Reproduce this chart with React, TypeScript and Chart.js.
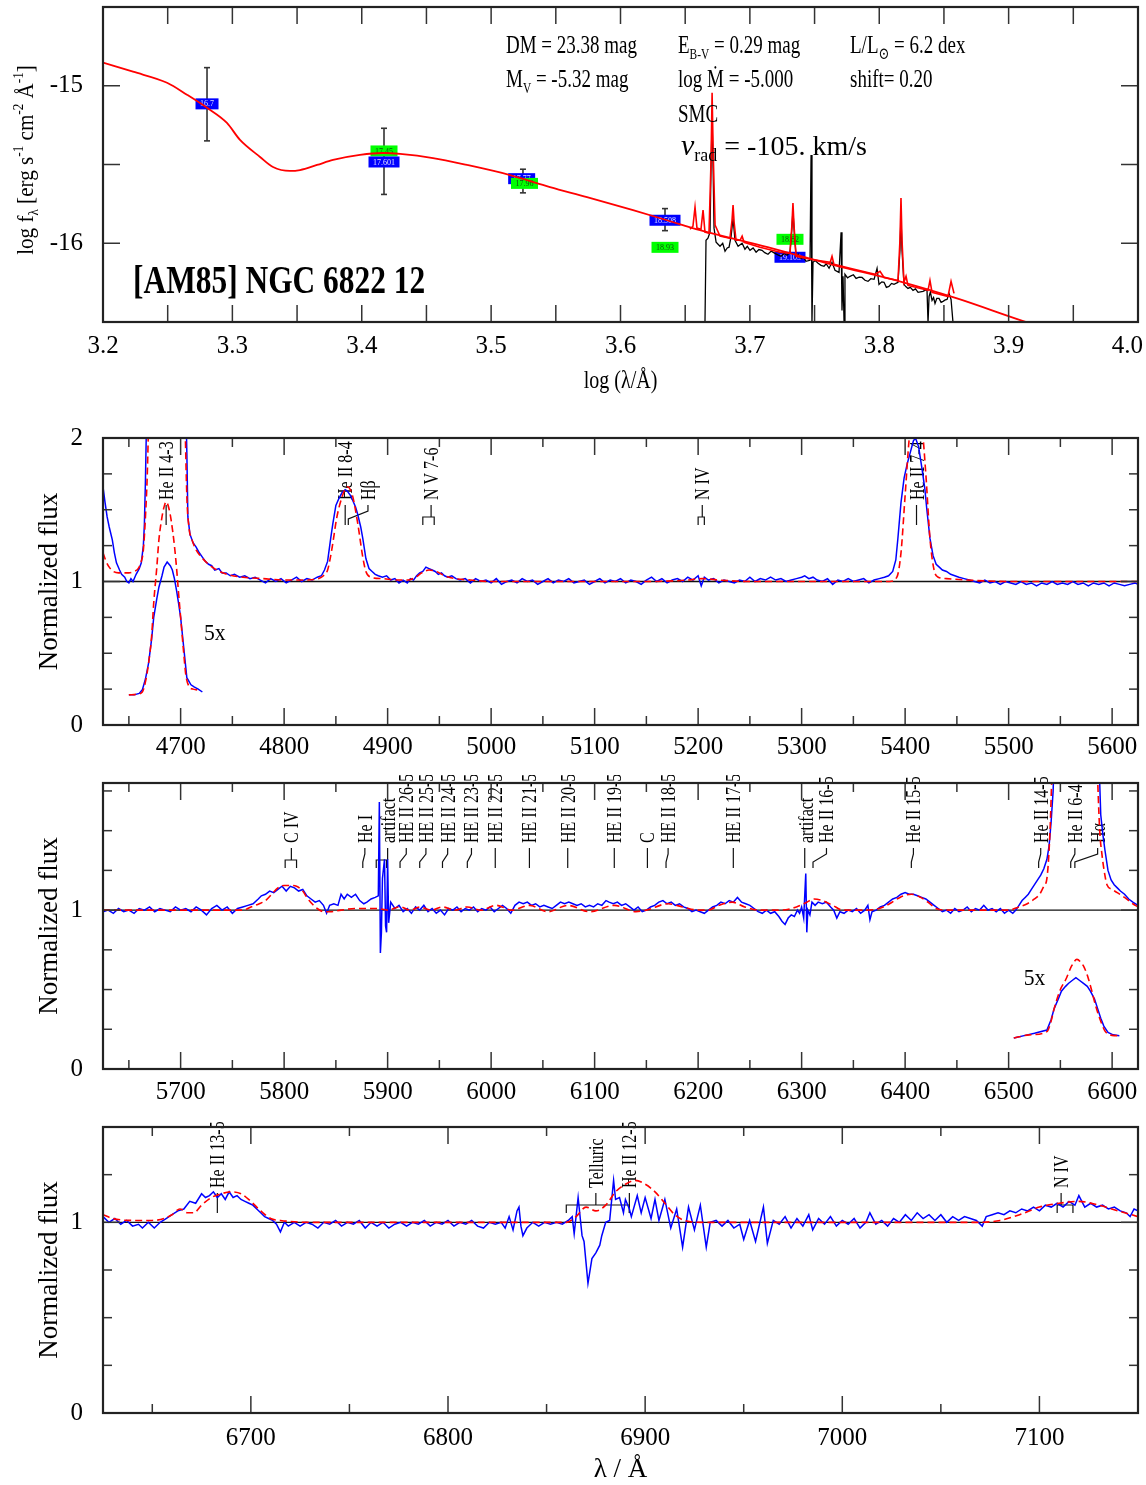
import React, { useEffect, useRef } from "react";
import { Chart, registerables } from "chart.js";

Chart.register(...registerables);

const SERIF = "'Liberation Serif','Times New Roman','DejaVu Serif','DejaVu Sans',serif";
const RED = "#ff0000";
const BLUE = "#0000ff";
Chart.defaults.font.family = SERIF;
Chart.defaults.color = "#000";

// ================= TOP PANEL (SED) =================
const sedXTicks = [3.2, 3.3, 3.4, 3.5, 3.6, 3.7, 3.8, 3.9, 4.0];
const sedXMinor = [3.25, 3.35, 3.45, 3.55, 3.65, 3.75, 3.85, 3.95];
const sedYTicks = [-16, -15];
const sedYMinor = [-15.5];

const sedCont = [
  [3.2, -14.853], [3.2232, -14.911], [3.2495, -14.981], [3.2649, -15.057], [3.2804, -15.14],
  [3.2958, -15.236], [3.3059, -15.344], [3.3214, -15.452], [3.3314, -15.516], [3.3445, -15.541],
  [3.3523, -15.535], [3.3654, -15.503], [3.3778, -15.471], [3.3986, -15.439], [3.4164, -15.427],
  [3.4296, -15.433], [3.4551, -15.459], [3.4814, -15.503], [3.5146, -15.567], [3.5455, -15.643],
  [3.5741, -15.707], [3.6097, -15.79], [3.6359, -15.854], [3.6614, -15.917], [3.7137, -16.025],
  [3.7658, -16.14], [3.8184, -16.248], [3.8601, -16.35], [3.9173, -16.51], [3.93, -16.54],
];

const sedModelLines = [
  [3.6537, -15.911], [3.656, -15.892], [3.6576, -15.771], [3.6591, -15.904], [3.6622, -15.911],
  [3.6638, -15.79], [3.6653, -15.93], [3.6684, -15.936], [3.67, -15.471], [3.6708, -15.045],
  [3.6716, -15.408], [3.6731, -15.885], [3.6769, -15.955], [3.6846, -15.968], [3.6862, -15.854],
  [3.687, -15.758], [3.6878, -15.866], [3.6893, -15.981], [3.6924, -15.981], [3.694, -15.955],
  [3.6955, -15.994], [3.7078, -16.025], [3.7233, -16.057], [3.731, -16.064], [3.7325, -15.885],
  [3.7333, -15.745], [3.7341, -15.885], [3.7357, -16.083], [3.7467, -16.102], [3.7621, -16.121],
  [3.7635, -16.083], [3.765, -16.134], [3.7774, -16.159], [3.7967, -16.197], [3.8006, -16.178],
  [3.8037, -16.217], [3.8145, -16.236], [3.816, -15.981], [3.8168, -15.713], [3.8176, -15.981],
  [3.8191, -16.248], [3.8207, -16.21], [3.8222, -16.268], [3.8377, -16.299], [3.8392, -16.236],
  [3.8408, -16.312], [3.8531, -16.338], [3.8555, -16.242], [3.8578, -16.318],
];

const sedObs = [
  [3.6653, -16.503], [3.6661, -15.981], [3.6676, -15.968], [3.6692, -15.93], [3.67, -15.503],
  [3.6708, -15.217], [3.6716, -15.535], [3.6723, -15.904], [3.6739, -15.994], [3.6769, -16.019],
  [3.679, -16.0], [3.6808, -16.051], [3.6825, -16.03], [3.6839, -16.025], [3.6855, -15.955],
  [3.687, -15.841], [3.6885, -15.981], [3.6909, -16.019], [3.694, -16.0], [3.6962, -16.038],
  [3.698, -16.02], [3.7001, -16.045], [3.7025, -16.03], [3.7048, -16.057], [3.707, -16.04],
  [3.7094, -16.045], [3.7115, -16.06], [3.714, -16.07], [3.7165, -16.05], [3.7194, -16.064],
  [3.722, -16.075], [3.7241, -16.083], [3.7265, -16.065], [3.7287, -16.076], [3.731, -16.057],
  [3.7325, -15.904], [3.7333, -15.79], [3.7341, -15.904], [3.7357, -16.083], [3.7375, -16.07],
  [3.7395, -16.096], [3.7415, -16.09], [3.7434, -16.115], [3.7465, -16.108], [3.7473, -15.439],
  [3.748, -16.503], [3.7488, -16.121], [3.7505, -16.11], [3.7527, -16.127], [3.755, -16.14],
  [3.7573, -16.146], [3.759, -16.13], [3.7612, -16.159], [3.7635, -16.121], [3.7658, -16.172],
  [3.7689, -16.185], [3.7705, -15.93], [3.7712, -16.427], [3.772, -16.21], [3.7728, -16.503],
  [3.7735, -16.197], [3.7755, -16.22], [3.7774, -16.21], [3.78, -16.2], [3.7821, -16.223],
  [3.7845, -16.215], [3.7867, -16.217], [3.789, -16.235], [3.7913, -16.242], [3.7935, -16.225],
  [3.796, -16.229], [3.7983, -16.159], [3.7998, -16.261], [3.802, -16.245], [3.8037, -16.248],
  [3.8055, -16.28], [3.8075, -16.274], [3.8095, -16.255], [3.8114, -16.261], [3.8145, -16.248],
  [3.816, -16.045], [3.8168, -15.822], [3.8176, -16.045], [3.8191, -16.261], [3.8205, -16.275],
  [3.8222, -16.287], [3.824, -16.28], [3.8261, -16.299], [3.828, -16.29], [3.83, -16.312],
  [3.8338, -16.306], [3.8369, -16.293], [3.8377, -16.503], [3.8385, -16.338], [3.8395, -16.31],
  [3.8408, -16.363], [3.842, -16.345], [3.8431, -16.382], [3.8445, -16.35], [3.8462, -16.35],
  [3.8478, -16.375], [3.8493, -16.369], [3.851, -16.36], [3.8524, -16.357], [3.8539, -16.318],
  [3.8555, -16.357], [3.857, -16.503],
];

const photLogLam = [3.2804, 3.4172, 3.4172, 3.5236, 3.5258, 3.6344, 3.6344, 3.731, 3.731];
const photLogF = [-15.115, -15.414, -15.484, -15.59, -15.62, -15.854, -16.026, -15.975, -16.089];
const photMag = ["16.7", "17.45", "17.601", "17.77", "17.96", "18.508", "18.93", "18.82", "19.103"];
const photKind = ["b", "g", "b", "b", "g", "b", "g", "g", "b"];
const errLogLam = [3.2804, 3.4172, 3.5246, 3.6344];
const errLo = [-15.35, -15.69, -15.68, -15.92];
const errHi = [-14.885, -15.27, -15.53, -15.78];

// ================= PANEL 2 (4625-5625) =================
const p2XTicks = [4700, 4800, 4900, 5000, 5100, 5200, 5300, 5400, 5500, 5600];
const p2XMinor = [4650, 4750, 4850, 4950, 5050, 5150, 5250, 5350, 5450, 5550];
const p2YTicks = [0, 1, 2];
const p2YMinor = [0.25, 0.5, 0.75, 1.25, 1.5, 1.75];

const p2Obs = [
  [4625, 1.66], [4627, 1.55], [4629, 1.45], [4631, 1.38], [4634, 1.29], [4636, 1.2], [4638, 1.13],
  [4641, 1.08], [4643, 1.05], [4646, 1.03], [4648, 1.0], [4650, 0.99], [4652, 1.02], [4654, 1.0],
  [4657, 1.05], [4660, 1.09], [4662, 1.13], [4664, 1.25], [4665, 1.4], [4666, 1.7], [4667, 2.1],
  [4668, 2.6], [4672, 3.8], [4678, 5.0], [4686, 5.65], [4694, 5.2], [4700, 4.0], [4704, 2.6],
  [4706, 1.9], [4707, 1.45], [4709, 1.33], [4712, 1.27], [4715, 1.24], [4718, 1.2], [4721, 1.17],
  [4724, 1.14], [4727, 1.12], [4730, 1.11], [4733, 1.08], [4737, 1.09], [4740, 1.06], [4744, 1.06],
  [4748, 1.04], [4752, 1.05], [4757, 1.03], [4762, 1.04], [4767, 1.02], [4772, 1.03], [4777, 1.01],
  [4782, 0.99], [4787, 1.02], [4792, 1.0], [4797, 1.02], [4802, 0.99], [4807, 1.01], [4812, 1.03],
  [4817, 1.0], [4822, 1.02], [4827, 1.01], [4832, 1.03], [4836, 1.04], [4839, 1.08], [4842, 1.14],
  [4845, 1.3], [4847, 1.4], [4850, 1.53], [4853, 1.58], [4856, 1.62], [4859, 1.64], [4861, 1.63],
  [4864, 1.6], [4866, 1.57], [4869, 1.52], [4871, 1.47], [4874, 1.38], [4876, 1.3], [4879, 1.16],
  [4882, 1.09], [4885, 1.07], [4888, 1.05], [4891, 1.04], [4895, 1.03], [4899, 1.04], [4903, 1.01],
  [4907, 1.02], [4911, 0.99], [4915, 1.01], [4919, 0.99], [4922, 1.02], [4925, 1.01], [4928, 1.04],
  [4931, 1.06], [4934, 1.07], [4937, 1.1], [4940, 1.09], [4943, 1.08], [4946, 1.07], [4949, 1.05],
  [4952, 1.06], [4955, 1.04], [4958, 1.03], [4962, 1.04], [4966, 1.02], [4970, 1.01], [4975, 1.02],
  [4980, 0.99], [4985, 1.02], [4990, 1.0], [4995, 1.01], [5000, 0.99], [5005, 1.02], [5010, 0.98],
  [5015, 1.0], [5020, 1.01], [5025, 0.99], [5030, 1.02], [5035, 1.0], [5040, 1.01], [5045, 0.98],
  [5050, 1.0], [5055, 1.02], [5060, 0.99], [5065, 1.01], [5070, 1.0], [5075, 1.02], [5080, 0.99],
  [5085, 1.0], [5090, 1.01], [5095, 0.98], [5100, 1.0], [5105, 1.02], [5110, 0.99], [5115, 1.01],
  [5120, 1.0], [5125, 1.02], [5130, 0.99], [5135, 1.01], [5140, 1.0], [5145, 0.98], [5150, 1.01],
  [5155, 1.03], [5160, 1.0], [5165, 1.02], [5170, 0.99], [5175, 1.01], [5180, 1.02], [5185, 1.0],
  [5190, 1.03], [5195, 1.01], [5200, 1.04], [5203, 0.97], [5206, 1.03], [5210, 1.01], [5215, 1.02],
  [5220, 0.99], [5225, 1.01], [5230, 1.0], [5235, 0.99], [5240, 1.01], [5245, 1.0], [5250, 1.03],
  [5255, 1.0], [5260, 1.02], [5265, 1.01], [5270, 1.03], [5275, 1.01], [5280, 1.02], [5285, 1.0],
  [5290, 1.01], [5295, 1.02], [5300, 1.03], [5303, 1.04], [5307, 1.02], [5311, 1.03], [5315, 1.01],
  [5320, 1.0], [5325, 1.02], [5330, 0.98], [5335, 1.01], [5340, 1.0], [5345, 1.02], [5350, 1.0],
  [5355, 1.01], [5360, 1.02], [5365, 0.99], [5370, 1.01], [5375, 1.02], [5380, 1.03], [5384, 1.04],
  [5388, 1.07], [5391, 1.15], [5393, 1.3], [5396, 1.55], [5399, 1.72], [5402, 1.82], [5405, 1.9],
  [5408, 1.98], [5410, 2.0], [5413, 1.94], [5416, 1.8], [5419, 1.65], [5421, 1.5], [5424, 1.3],
  [5427, 1.18], [5430, 1.12], [5433, 1.1], [5436, 1.08], [5440, 1.07], [5444, 1.05], [5448, 1.04],
  [5452, 1.03], [5457, 1.02], [5462, 1.01], [5467, 1.0], [5472, 0.99], [5477, 1.01], [5482, 0.99],
  [5487, 1.0], [5492, 0.98], [5497, 1.0], [5502, 0.99], [5507, 0.98], [5512, 1.0], [5517, 0.98],
  [5522, 0.99], [5527, 0.97], [5532, 0.99], [5537, 0.98], [5542, 1.0], [5547, 0.98], [5552, 0.99],
  [5557, 0.98], [5562, 1.0], [5567, 0.98], [5572, 0.99], [5577, 0.97], [5582, 0.99], [5587, 0.98],
  [5592, 0.99], [5597, 0.97], [5602, 0.99], [5607, 0.98], [5612, 0.97], [5617, 0.98], [5622, 0.99],
  [5625, 0.98],
];

const p2Model = [
  [4625, 1.2], [4628, 1.14], [4631, 1.1], [4635, 1.07], [4640, 1.06], [4645, 1.06], [4650, 1.06],
  [4655, 1.07], [4659, 1.09], [4662, 1.14], [4664, 1.22], [4666, 1.45], [4668, 1.8], [4670, 2.5],
  [4676, 5.5], [4686, 7.8], [4696, 5.5], [4703, 2.6], [4706, 1.6], [4708, 1.38], [4711, 1.29],
  [4715, 1.22], [4720, 1.17], [4727, 1.12], [4735, 1.08], [4745, 1.05], [4760, 1.03], [4780, 1.02],
  [4800, 1.01], [4820, 1.01], [4833, 1.02], [4838, 1.04], [4842, 1.08], [4846, 1.22], [4851, 1.45],
  [4856, 1.59], [4861, 1.66], [4866, 1.6], [4871, 1.41], [4876, 1.17], [4879, 1.07], [4884, 1.03],
  [4895, 1.02], [4910, 1.01], [4920, 1.01], [4927, 1.03], [4933, 1.06], [4940, 1.08], [4947, 1.07],
  [4955, 1.04], [4965, 1.02], [4980, 1.01], [5000, 1.0], [5050, 1.0], [5100, 1.0], [5150, 1.0],
  [5190, 1.01], [5204, 1.02], [5220, 1.01], [5250, 1.0], [5300, 1.0], [5350, 1.0], [5385, 1.0],
  [5392, 1.03], [5396, 1.2], [5400, 1.6], [5404, 2.0], [5408, 2.2], [5412, 2.2], [5416, 2.1],
  [5420, 1.75], [5424, 1.3], [5428, 1.08], [5432, 1.03], [5440, 1.02], [5460, 1.01], [5500, 1.0],
  [5550, 1.0], [5600, 1.0], [5625, 1.0],
];

const p2InsetObs = [
  [4650, 0.21], [4655, 0.21], [4660, 0.22], [4663, 0.245], [4666, 0.32], [4669, 0.43], [4672, 0.6],
  [4674, 0.75], [4677, 0.88], [4679, 0.96], [4682, 1.04], [4684, 1.1], [4687, 1.135], [4690, 1.11],
  [4692, 1.08], [4694, 1.02], [4696, 0.94], [4698, 0.85], [4700, 0.75], [4703, 0.54], [4706, 0.33],
  [4710, 0.28], [4713, 0.265], [4717, 0.25], [4721, 0.23],
];
const p2InsetModel = [
  [4650, 0.21], [4658, 0.215], [4663, 0.23], [4666, 0.3], [4669, 0.43], [4672, 0.62], [4674, 0.85],
  [4677, 1.1], [4679, 1.29], [4682, 1.45], [4684, 1.52], [4686, 1.556], [4689, 1.5], [4691, 1.42],
  [4694, 1.25], [4696, 1.1], [4698, 0.92], [4700, 0.75], [4703, 0.5], [4705, 0.35], [4708, 0.27],
  [4712, 0.25], [4716, 0.245],
];

const p2Names = ["He II 4-3", "He II 8-4", "H\u03b2", "N V 7-6", "N IV", "He II 7-4"];
const p2TextAt = [4686, 4859, 4881, 4942, 5204, 5411];
const p2LineAt = [4686, 4859, 4862, 4934, 5200, 5411];
const p2LineAt2 = [null, null, null, 4945, 5206, null];

// ================= PANEL 3 (5625-6625) =================
const p3XTicks = [5700, 5800, 5900, 6000, 6100, 6200, 6300, 6400, 6500, 6600];
const p3XMinor = [5650, 5750, 5850, 5950, 6050, 6150, 6250, 6350, 6450, 6550];
const p3YTicks = [0, 1];
const p3YMinor = [0.25, 0.5, 0.75, 1.25, 1.5, 1.75];

const p3Obs = [
  [5625, 0.99], [5630, 1.0], [5635, 0.98], [5640, 1.01], [5645, 0.99], [5650, 1.0], [5655, 0.98],
  [5660, 1.01], [5665, 1.0], [5670, 1.02], [5675, 0.99], [5680, 1.01], [5685, 1.0], [5690, 0.99],
  [5695, 1.02], [5700, 1.0], [5705, 1.01], [5710, 0.99], [5715, 1.02], [5720, 1.0], [5725, 0.97],
  [5730, 1.01], [5735, 1.03], [5740, 1.0], [5745, 1.02], [5750, 0.98], [5755, 1.01], [5760, 1.02],
  [5765, 1.03], [5770, 1.04], [5775, 1.07], [5778, 1.09], [5782, 1.1], [5786, 1.12], [5790, 1.11],
  [5794, 1.13], [5798, 1.15], [5802, 1.12], [5806, 1.15], [5810, 1.14], [5814, 1.12], [5818, 1.13],
  [5822, 1.09], [5826, 1.07], [5830, 1.05], [5834, 1.06], [5838, 1.03], [5841, 0.98], [5844, 1.03],
  [5848, 1.04], [5852, 1.03], [5855, 1.1], [5858, 1.07], [5861, 1.1], [5865, 1.08], [5869, 1.1],
  [5873, 1.06], [5877, 1.04], [5880, 1.05], [5884, 1.07], [5888, 1.08], [5891, 1.09], [5892, 1.68],
  [5893, 0.73], [5894, 0.86], [5895, 1.2], [5897, 1.32], [5898, 0.9], [5899, 0.86], [5900, 1.32],
  [5901, 0.92], [5903, 1.05], [5907, 1.01], [5911, 1.03], [5915, 0.99], [5919, 1.01], [5923, 0.98],
  [5927, 1.02], [5931, 1.0], [5935, 1.03], [5939, 0.99], [5943, 1.01], [5947, 0.98], [5951, 1.0],
  [5955, 0.97], [5959, 1.01], [5963, 1.0], [5967, 1.02], [5971, 0.99], [5975, 1.01], [5979, 1.0],
  [5983, 1.02], [5987, 0.99], [5991, 1.01], [5995, 1.0], [5999, 1.02], [6003, 0.99], [6007, 1.01],
  [6011, 1.03], [6015, 1.01], [6019, 0.98], [6023, 1.03], [6027, 1.05], [6031, 1.04], [6035, 1.05],
  [6039, 1.03], [6043, 1.04], [6047, 1.02], [6051, 1.03], [6055, 1.02], [6059, 1.01], [6063, 1.03],
  [6067, 1.05], [6071, 1.04], [6075, 1.05], [6079, 1.04], [6083, 1.03], [6087, 1.04], [6091, 1.02],
  [6095, 1.03], [6099, 1.02], [6103, 1.04], [6107, 1.03], [6111, 1.06], [6114, 1.05], [6118, 1.04],
  [6122, 1.05], [6126, 1.03], [6130, 1.04], [6134, 1.02], [6138, 1.0], [6142, 1.02], [6146, 0.99],
  [6150, 1.0], [6154, 1.02], [6158, 1.03], [6162, 1.05], [6166, 1.06], [6170, 1.04], [6174, 1.05],
  [6178, 1.03], [6182, 1.04], [6186, 1.02], [6190, 1.01], [6194, 0.99], [6198, 1.0], [6202, 0.99],
  [6206, 0.98], [6210, 1.0], [6214, 1.02], [6218, 1.03], [6222, 1.05], [6226, 1.04], [6230, 1.06],
  [6234, 1.05], [6238, 1.08], [6242, 1.05], [6246, 1.04], [6250, 1.03], [6254, 1.01], [6258, 0.99],
  [6262, 0.98], [6266, 1.0], [6270, 0.98], [6274, 0.99], [6278, 0.96], [6281, 0.93], [6284, 0.91],
  [6287, 0.95], [6290, 0.97], [6293, 0.96], [6296, 1.0], [6298, 0.98], [6300, 1.02], [6302, 0.95],
  [6304, 1.23], [6305, 0.86], [6306, 1.0], [6308, 0.97], [6310, 1.05], [6313, 1.03], [6316, 1.05],
  [6320, 1.04], [6324, 1.05], [6328, 1.02], [6331, 1.0], [6334, 0.95], [6337, 0.99], [6341, 0.98],
  [6345, 1.0], [6349, 0.99], [6353, 1.01], [6357, 0.98], [6361, 1.0], [6364, 1.03], [6366, 0.94],
  [6368, 0.99], [6372, 1.0], [6376, 1.02], [6380, 1.03], [6384, 1.05], [6388, 1.07], [6392, 1.08],
  [6396, 1.1], [6400, 1.11], [6404, 1.1], [6408, 1.1], [6412, 1.09], [6416, 1.08], [6420, 1.07],
  [6424, 1.05], [6428, 1.03], [6432, 1.01], [6436, 0.99], [6440, 1.0], [6444, 0.98], [6448, 1.01],
  [6452, 0.99], [6456, 1.0], [6460, 1.02], [6464, 0.99], [6468, 1.01], [6472, 1.0], [6476, 1.03],
  [6480, 1.0], [6484, 1.01], [6488, 0.99], [6492, 1.01], [6496, 0.98], [6500, 1.0], [6504, 0.98],
  [6507, 1.0], [6510, 1.03], [6513, 1.06], [6516, 1.08], [6519, 1.1], [6522, 1.13], [6525, 1.16],
  [6528, 1.19], [6531, 1.22], [6534, 1.26], [6537, 1.32], [6539, 1.4], [6541, 1.55], [6543, 1.75],
  [6545, 2.2], [6550, 2.8], [6565, 3.0], [6582, 2.5], [6587, 2.0], [6589, 1.6], [6591, 1.48],
  [6593, 1.38], [6596, 1.25], [6599, 1.19], [6602, 1.16], [6605, 1.14], [6608, 1.12], [6612, 1.1],
  [6616, 1.07], [6620, 1.05], [6625, 1.03],
];

const p3Model = [
  [5625, 1.0], [5700, 1.0], [5760, 1.0], [5768, 1.02], [5776, 1.04], [5782, 1.06], [5788, 1.1],
  [5794, 1.14], [5800, 1.155], [5806, 1.155], [5812, 1.15], [5818, 1.12], [5822, 1.08], [5827, 1.04],
  [5832, 1.01], [5838, 0.99], [5845, 0.99], [5855, 1.0], [5870, 1.01], [5890, 1.01], [5900, 1.0],
  [5912, 1.02], [5922, 1.0], [5931, 1.02], [5942, 1.0], [5953, 1.02], [5965, 1.0], [5977, 1.02],
  [5990, 1.0], [6005, 1.03], [6020, 1.0], [6037, 1.03], [6055, 0.99], [6074, 1.03], [6095, 0.99],
  [6119, 1.03], [6140, 0.99], [6150, 1.0], [6171, 1.04], [6185, 1.02], [6200, 1.0], [6210, 1.0],
  [6220, 1.03], [6233, 1.05], [6245, 1.02], [6260, 1.0], [6280, 1.0], [6295, 1.02], [6305, 1.05],
  [6312, 1.07], [6320, 1.06], [6330, 1.03], [6340, 1.0], [6360, 1.0], [6375, 1.01], [6385, 1.04],
  [6395, 1.08], [6406, 1.1], [6415, 1.08], [6422, 1.05], [6430, 1.01], [6440, 1.0], [6470, 1.0],
  [6500, 1.0], [6510, 1.02], [6518, 1.04], [6525, 1.07], [6530, 1.1], [6534, 1.15], [6537, 1.2],
  [6540, 1.5], [6542, 1.9], [6550, 3.5], [6563, 4.2], [6575, 3.5], [6585, 2.0], [6588, 1.5],
  [6590, 1.36], [6593, 1.22], [6595, 1.16], [6600, 1.13], [6605, 1.11], [6612, 1.08], [6620, 1.04],
  [6625, 1.02],
];

const p3InsetObs = [
  [6505, 0.195], [6515, 0.21], [6525, 0.225], [6537, 0.245], [6541, 0.31], [6544, 0.38], [6548, 0.44],
  [6551, 0.49], [6555, 0.52], [6558, 0.54], [6562, 0.56], [6565, 0.575], [6568, 0.56], [6572, 0.54],
  [6576, 0.52], [6579, 0.49], [6583, 0.44], [6586, 0.38], [6589, 0.32], [6592, 0.27], [6596, 0.23],
  [6601, 0.215], [6607, 0.21],
];
const p3InsetModel = [
  [6505, 0.195], [6520, 0.215], [6537, 0.235], [6541, 0.3], [6544, 0.38], [6550, 0.5], [6555, 0.56],
  [6561, 0.65], [6566, 0.69], [6570, 0.67], [6573, 0.64], [6577, 0.57], [6580, 0.5], [6584, 0.4],
  [6589, 0.3], [6593, 0.24], [6596, 0.22], [6602, 0.21], [6607, 0.21],
];

const p3Names = [
  "C IV", "He I", "artifact", "HE II 26-5", "HE II 25-5", "HE II 24-5", "HE II 23-5", "HE II 22-5",
  "HE II 21-5", "HE II 20-5", "HE II 19-5", "C", "HE II 18-5", "HE II 17-5", "artifact",
  "He II 16-5", "He II 15-5", "He II 14-5", "He II 6-4", "H\u03b1",
];
const p3TextAt = [5807, 5878, 5900, 5918, 5937, 5958, 5981, 6004, 6037, 6074, 6119, 6151, 6171, 6234, 6304, 6324, 6408, 6531, 6564, 6586];
const p3LineAt = [5801, 5876, 5889, 5912, 5931, 5953, 5977, 6004, 6037, 6074, 6119, 6151, 6169, 6234, 6303, 6311, 6406, 6529, 6560, 6564];
const p3LineAt2 = [5812, null, 5899, null, null, null, null, null, null, null, null, null, null, null, null, null, null, null, null, null];

// ================= PANEL 4 (6625-7150) =================
const p4XTicks = [6700, 6800, 6900, 7000, 7100];
const p4XMinor = [6650, 6750, 6850, 6950, 7050];
const p4YTicks = [0, 1];
const p4YMinor = [0.25, 0.5, 0.75, 1.25];

const p4Obs = [
  [6625, 1.03], [6628, 1.0], [6631, 1.02], [6634, 0.99], [6637, 1.01], [6640, 0.98], [6643, 0.99],
  [6645, 0.97], [6648, 1.0], [6651, 0.97], [6654, 1.0], [6657, 1.02], [6660, 1.04], [6663, 1.06],
  [6666, 1.07], [6669, 1.11], [6672, 1.1], [6675, 1.15], [6677, 1.13], [6679, 1.14], [6681, 1.16],
  [6683, 1.13], [6685, 1.15], [6687, 1.12], [6689, 1.16], [6691, 1.13], [6693, 1.14], [6695, 1.12],
  [6697, 1.11], [6699, 1.1], [6701, 1.09], [6703, 1.07], [6705, 1.05], [6707, 1.03], [6709, 1.02],
  [6711, 1.01], [6713, 0.99], [6715, 0.95], [6717, 1.0], [6719, 0.98], [6722, 1.0], [6725, 0.98],
  [6728, 1.0], [6731, 0.99], [6734, 0.97], [6737, 1.0], [6740, 0.99], [6743, 1.01], [6746, 0.98],
  [6749, 1.0], [6752, 0.99], [6755, 1.01], [6758, 0.97], [6761, 1.0], [6764, 0.98], [6767, 1.0],
  [6770, 0.97], [6773, 0.99], [6776, 1.0], [6779, 0.98], [6782, 1.0], [6785, 0.99], [6788, 1.01],
  [6791, 0.98], [6794, 1.0], [6797, 0.99], [6800, 1.01], [6803, 0.98], [6806, 1.0], [6809, 0.99],
  [6812, 1.01], [6815, 0.98], [6818, 0.97], [6821, 1.0], [6824, 0.99], [6827, 1.0], [6829, 0.97],
  [6831, 1.03], [6833, 0.96], [6835, 1.06], [6836, 1.08], [6837, 0.98], [6838, 0.93], [6840, 0.97],
  [6843, 1.0], [6846, 0.98], [6849, 1.0], [6852, 0.99], [6855, 1.0], [6858, 0.99], [6861, 1.01],
  [6863, 1.03], [6864, 0.94], [6866, 1.13], [6868, 0.93], [6869, 0.9], [6871, 0.68], [6873, 0.81],
  [6875, 0.84], [6877, 0.88], [6878, 0.93], [6880, 1.0], [6882, 1.01], [6884, 1.22], [6885, 1.12],
  [6887, 1.13], [6889, 1.05], [6890, 1.12], [6892, 1.07], [6893, 1.03], [6896, 1.14], [6898, 1.05],
  [6900, 1.13], [6903, 1.02], [6905, 1.12], [6907, 1.01], [6910, 1.12], [6913, 0.97], [6916, 1.07],
  [6919, 0.87], [6922, 1.08], [6925, 0.96], [6928, 1.09], [6931, 0.87], [6933, 1.0], [6936, 1.01],
  [6939, 0.98], [6942, 1.01], [6945, 0.97], [6948, 0.99], [6950, 0.91], [6953, 1.01], [6956, 0.9],
  [6960, 1.08], [6962, 0.89], [6965, 1.01], [6968, 0.99], [6971, 1.03], [6974, 0.97], [6977, 1.02],
  [6980, 0.98], [6983, 1.04], [6985, 0.96], [6988, 1.02], [6991, 0.99], [6994, 1.03], [6997, 0.98],
  [7000, 1.01], [7003, 0.99], [7006, 1.02], [7009, 0.97], [7012, 1.0], [7014, 1.05], [7017, 0.99],
  [7020, 1.01], [7023, 0.98], [7026, 1.02], [7029, 1.0], [7032, 1.04], [7035, 1.01], [7038, 1.05],
  [7041, 1.02], [7044, 1.04], [7047, 1.01], [7050, 1.04], [7053, 1.0], [7056, 1.03], [7059, 1.01],
  [7062, 1.03], [7065, 1.02], [7068, 1.01], [7071, 0.98], [7073, 1.03], [7076, 1.04], [7079, 1.05],
  [7082, 1.04], [7085, 1.06], [7088, 1.05], [7091, 1.07], [7094, 1.06], [7097, 1.08], [7100, 1.06],
  [7103, 1.09], [7106, 1.08], [7109, 1.1], [7112, 1.08], [7115, 1.11], [7118, 1.09], [7120, 1.14],
  [7123, 1.08], [7126, 1.1], [7129, 1.08], [7132, 1.09], [7135, 1.07], [7138, 1.08], [7141, 1.06],
  [7144, 1.05], [7146, 1.03], [7148, 1.07], [7150, 1.06],
];

const p4Model = [
  [6625, 1.04], [6630, 1.02], [6640, 1.01], [6650, 1.01], [6656, 1.02], [6660, 1.04], [6664, 1.07],
  [6668, 1.05], [6671, 1.05], [6675, 1.09], [6680, 1.13], [6685, 1.15], [6690, 1.16], [6695, 1.15],
  [6700, 1.11], [6705, 1.06], [6710, 1.02], [6715, 1.01], [6730, 1.0], [6800, 1.0], [6860, 1.0],
  [6865, 1.03], [6870, 1.08], [6875, 1.06], [6880, 1.09], [6885, 1.16], [6890, 1.2], [6895, 1.22],
  [6900, 1.2], [6905, 1.16], [6910, 1.1], [6915, 1.04], [6920, 1.01], [6930, 1.0], [7000, 1.0],
  [7070, 1.0], [7080, 1.01], [7090, 1.04], [7100, 1.08], [7110, 1.1], [7120, 1.11], [7130, 1.09],
  [7140, 1.06], [7150, 1.03],
];

const p4Names = ["He II 13-5", "Telluric", "He II 12-5", "N IV"];
const p4TextAt = [6683, 6875, 6892, 7111];
const p4LineAt = [6683, 6860, 6892, 7109];
const p4LineAt2 = [null, 6892, null, 7117];

// ================= helpers =================
const pairs = (a) => a.map((p) => ({ x: p[0], y: p[1] }));

function rich(ctx, segs, x, y, base, sx, rot, align) {
  ctx.save();
  ctx.translate(x, y);
  if (rot) ctx.rotate(-Math.PI / 2);
  ctx.scale(sx, 1);
  const f = (g) => `${g.it ? "italic " : ""}${g.b ? "bold " : ""}${g.s || base}px ${SERIF}`;
  let w = 0;
  for (const g of segs) {
    ctx.font = f(g);
    w += ctx.measureText(g.t).width;
  }
  let cx = align === "center" ? -w / 2 : align === "right" ? -w : 0;
  ctx.fillStyle = "#000";
  ctx.textAlign = "left";
  ctx.textBaseline = "alphabetic";
  for (const g of segs) {
    ctx.font = f(g);
    ctx.fillText(g.t, cx, g.dy || 0);
    cx += ctx.measureText(g.t).width;
  }
  ctx.restore();
}

function seg(ctx, x1, y1, x2, y2) {
  ctx.beginPath();
  ctx.moveTo(x1, y1);
  ctx.lineTo(x2, y2);
  ctx.stroke();
}

function drawFrame(chart, o) {
  const { ctx, chartArea: a, scales } = chart;
  const x = scales.x, y = scales.y;
  ctx.save();
  ctx.strokeStyle = "#333";
  ctx.lineWidth = 1.5;
  for (const v of o.xMajor) {
    const p = x.getPixelForValue(v);
    if (p <= a.left + 1 || p >= a.right - 1) continue;
    seg(ctx, p, a.bottom, p, a.bottom - o.maj);
    seg(ctx, p, a.top, p, a.top + o.maj);
  }
  for (const v of o.xMinor) {
    const p = x.getPixelForValue(v);
    seg(ctx, p, a.bottom, p, a.bottom - o.min);
    seg(ctx, p, a.top, p, a.top + o.min);
  }
  for (const v of o.yMajor) {
    const p = y.getPixelForValue(v);
    if (p <= a.top + 1 || p >= a.bottom - 1) continue;
    seg(ctx, a.left, p, a.left + o.maj, p);
    seg(ctx, a.right, p, a.right - o.maj, p);
  }
  for (const v of o.yMinor) {
    const p = y.getPixelForValue(v);
    seg(ctx, a.left, p, a.left + o.min, p);
    seg(ctx, a.right, p, a.right - o.min, p);
  }
  ctx.strokeStyle = "#222";
  ctx.lineWidth = 2.2;
  ctx.strokeRect(a.left, a.top, a.right - a.left, a.bottom - a.top);
  ctx.restore();
}

function drawLineLabels(chart, names, textAt, lineAt, lineAt2, tbOff) {
  const { ctx, chartArea: a, scales } = chart;
  const x = scales.x;
  const tb = a.top + tbOff;
  ctx.save();
  ctx.strokeStyle = "#111";
  ctx.lineWidth = 1.2;
  names.forEach((name, i) => {
    const xt = x.getPixelForValue(textAt[i]);
    const xl = x.getPixelForValue(lineAt[i]);
    const l2 = lineAt2[i];
    ctx.beginPath();
    if (l2 != null) {
      const x2 = x.getPixelForValue(l2);
      ctx.moveTo(xt, tb + 5);
      ctx.lineTo(xt, tb + 17);
      ctx.moveTo(xl, tb + 25);
      ctx.lineTo(xl, tb + 17);
      ctx.lineTo(x2, tb + 17);
      ctx.lineTo(x2, tb + 25);
    } else if (Math.abs(xt - xl) > 1.5) {
      ctx.moveTo(xt, tb + 5);
      ctx.lineTo(xt, tb + 11);
      ctx.lineTo(xl, tb + 19);
      ctx.lineTo(xl, tb + 25);
    } else {
      ctx.moveTo(xl, tb + 5);
      ctx.lineTo(xl, tb + 25);
    }
    ctx.stroke();
    rich(ctx, [{ t: name }], xt + 7, tb, 20, 0.8, true, "left");
  });
  ctx.restore();
}

function scalesCfg(o) {
  return {
    x: {
      type: "linear",
      min: o.xMin,
      max: o.xMax,
      grid: { display: false, drawTicks: false },
      border: { display: false },
      ticks: {
        color: "#000",
        font: { family: SERIF, size: 25 },
        padding: o.xPad,
        maxRotation: 0,
        minRotation: 0,
        autoSkip: false,
        callback: o.xFmt,
      },
      afterBuildTicks: (s) => {
        s.ticks = o.xTicks.map((v) => ({ value: v }));
      },
      afterFit: (s) => {
        s.height = o.axisH;
        s.paddingLeft = 0;
        s.paddingRight = 0;
      },
    },
    y: {
      type: "linear",
      min: o.yMin,
      max: o.yMax,
      grid: { display: false, drawTicks: false },
      border: { display: false },
      ticks: {
        color: "#000",
        font: { family: SERIF, size: 25 },
        padding: 20,
        autoSkip: false,
        callback: (v) => String(v),
      },
      afterBuildTicks: (s) => {
        s.ticks = o.yTicks.map((v) => ({ value: v }));
      },
      afterFit: (s) => {
        s.width = 103;
        s.paddingTop = 0;
        s.paddingBottom = 0;
      },
    },
  };
}

const commonOpts = (padTop) => ({
  responsive: false,
  animation: false,
  events: [],
  layout: { padding: { top: padTop, right: 8, left: 0, bottom: 0 } },
  plugins: { legend: { display: false }, tooltip: { enabled: false } },
});

const lineDs = (data, color, width, dash, smooth) => ({
  data: pairs(data),
  borderColor: color,
  borderWidth: width,
  borderDash: dash || [],
  pointRadius: 0,
  tension: smooth ? 0.4 : 0,
  cubicInterpolationMode: smooth ? "monotone" : "default",
  fill: false,
  parsing: false,
  normalized: true,
});

// ================= chart builders =================
function buildTop() {
  const plugin = {
    id: "sedDecor",
    beforeDatasetsDraw(chart) {
      const { ctx, scales } = chart;
      const x = scales.x, y = scales.y;
      ctx.save();
      ctx.strokeStyle = "#333";
      ctx.lineWidth = 1.6;
      errLogLam.forEach((l, i) => {
        const px = x.getPixelForValue(l);
        const y1 = y.getPixelForValue(errLo[i]);
        const y2 = y.getPixelForValue(errHi[i]);
        seg(ctx, px, y1, px, y2);
        seg(ctx, px - 3, y1, px + 3, y1);
        seg(ctx, px - 3, y2, px + 3, y2);
      });
      ctx.font = `8px ${SERIF}`;
      ctx.textAlign = "center";
      ctx.textBaseline = "middle";
      photLogLam.forEach((l, i) => {
        const px = x.getPixelForValue(l);
        const py = y.getPixelForValue(photLogF[i]);
        const w = ctx.measureText(photMag[i]).width + 9;
        const h = 11;
        ctx.fillStyle = photKind[i] === "b" ? "#0000ff" : "#00ff00";
        ctx.fillRect(px - w / 2, py - h / 2, w, h);
        ctx.fillStyle = photKind[i] === "b" ? "#e0e0ff" : "#105010";
        ctx.fillText(photMag[i], px, py + 0.5);
      });
      ctx.restore();
    },
    afterDraw(chart) {
      const { ctx, chartArea: a, scales } = chart;
      drawFrame(chart, { xMajor: sedXTicks.concat(sedXMinor), xMinor: [], yMajor: sedYTicks.concat(sedYMinor), yMinor: [], maj: 17, min: 17 });
      const C = 0.76;
      rich(ctx, [{ t: "DM = 23.38 mag" }], 506, 53, 25, C, false, "left");
      rich(ctx, [{ t: "M" }, { t: "V", s: 15, dy: 6 }, { t: " = -5.32 mag" }], 506, 87, 25, C, false, "left");
      rich(ctx, [{ t: "E" }, { t: "B-V", s: 15, dy: 6 }, { t: " = 0.29 mag" }], 678, 53, 25, C, false, "left");
      rich(ctx, [{ t: "log \u1e40 = -5.000" }], 678, 87, 25, C, false, "left");
      rich(ctx, [{ t: "L/L" }, { t: "\u2299", s: 17, dy: 6 }, { t: " = 6.2 dex" }], 850, 53, 25, C, false, "left");
      rich(ctx, [{ t: "shift= 0.20" }], 850, 87, 25, C, false, "left");
      rich(ctx, [{ t: "SMC" }], 678, 122, 25, C, false, "left");
      rich(ctx, [{ t: "v", it: true, s: 30 }, { t: "rad", s: 18, dy: 6 }, { t: " = -105. km/s" }], 681, 155, 28, 1, false, "left");
      rich(ctx, [{ t: "[AM85] NGC 6822 12", b: true }], 133, 293, 40, 0.785, false, "left");
      rich(ctx, [{ t: "log (\u03bb/\u00c5)" }], (a.left + a.right) / 2, 388, 25, 0.8, false, "center");
      rich(
        ctx,
        [
          { t: "log f" }, { t: "\u03bb", s: 15, dy: 5 }, { t: " [erg s" }, { t: "-1", s: 15, dy: -10 },
          { t: " cm" }, { t: "-2", s: 15, dy: -10 }, { t: " \u00c5" }, { t: "-1", s: 15, dy: -10 }, { t: "]" },
        ],
        33, 160, 24, 0.88, true, "center"
      );
      const lastX = scales.x.getPixelForValue(sedXTicks[sedXTicks.length - 1]);
      ctx.save();
      ctx.font = `25px ${SERIF}`;
      ctx.fillStyle = "#000";
      ctx.textAlign = "right";
      ctx.textBaseline = "middle";
      ctx.fillText(sedXTicks[sedXTicks.length - 1].toFixed(1), lastX + 5, a.bottom + 9 + 15);
      ctx.restore();
    },
  };
  return {
    type: "line",
    data: {
      datasets: [
        lineDs(sedModelLines, RED, 1.6),
        lineDs(sedCont, RED, 1.8, null, true),
        lineDs(sedObs, "#000", 1.3),
      ],
    },
    options: {
      ...commonOpts(7),
      scales: scalesCfg({
        xMin: 3.2, xMax: 4.0, yMin: -16.5, yMax: -14.5,
        xTicks: sedXTicks, yTicks: sedYTicks, axisH: 78, xPad: 9,
        xFmt: (v) => (v >= 4.0 ? "" : Number(v).toFixed(1)),
      }),
    },
    plugins: [plugin],
  };
}

function buildSpectrum(p) {
  const plugin = {
    id: "specDecor",
    beforeDatasetsDraw(chart) {
      const { ctx, chartArea: a, scales } = chart;
      const py = scales.y.getPixelForValue(1);
      ctx.save();
      ctx.strokeStyle = "#111";
      ctx.lineWidth = 1.3;
      seg(ctx, a.left, py, a.right, py);
      ctx.restore();
      drawLineLabels(chart, p.names, p.textAt, p.lineAt, p.lineAt2, p.tbOff);
    },
    afterDraw(chart) {
      const { ctx, chartArea: a, scales } = chart;
      drawFrame(chart, { xMajor: p.xTicks, xMinor: p.xMinor, yMajor: p.yTicks, yMinor: p.yMinor, maj: 17, min: 9 });
      rich(ctx, [{ t: "Normalized flux" }], 57, (a.top + a.bottom) / 2, 27, 1, true, "center");
      if (p.insetLabel) {
        rich(ctx, [{ t: "5x" }], scales.x.getPixelForValue(p.insetLabel[0]), scales.y.getPixelForValue(p.insetLabel[1]) + 8, 24, 0.9, false, "center");
      }
      if (p.xTitle) {
        rich(ctx, [{ t: "\u03bb / \u00c5" }], (a.left + a.right) / 2, a.bottom + 64, 27, 1, false, "center");
      }
    },
  };
  const ds = [lineDs(p.model, RED, 1.6, [7, 4], true)];
  if (p.insetModel) ds.push(lineDs(p.insetModel, RED, 1.6, [7, 4], true));
  ds.push(lineDs(p.obs, BLUE, 1.5));
  if (p.insetObs) ds.push(lineDs(p.insetObs, BLUE, 1.5));
  return {
    type: "line",
    data: { datasets: ds },
    options: {
      ...commonOpts(p.padTop),
      scales: scalesCfg({
        xMin: p.xMin, xMax: p.xMax, yMin: 0, yMax: p.yMax,
        xTicks: p.xTicks, yTicks: p.yTicks, axisH: p.axisH, xPad: p.xPad,
        xFmt: (v) => String(v),
      }),
    },
    plugins: [plugin],
  };
}

function ChartCanvas({ top, height, build }) {
  const ref = useRef(null);
  useEffect(() => {
    const chart = new Chart(ref.current, build());
    return () => chart.destroy();
  }, []);
  return (
    <canvas
      ref={ref}
      width={1146}
      height={height}
      style={{ position: "absolute", left: 0, top, width: 1146, height, display: "block" }}
    />
  );
}

export default function App() {
  return (
    <div style={{ position: "absolute", left: 0, top: 0, width: 1146, height: 1485, background: "#fff", overflow: "hidden" }}>
      <ChartCanvas top={0} height={400} build={buildTop} />
      <ChartCanvas
        top={400}
        height={375}
        build={() =>
          buildSpectrum({
            xMin: 4625, xMax: 5625, yMax: 2, padTop: 38, axisH: 50, xPad: 7,
            xTicks: p2XTicks, xMinor: p2XMinor, yTicks: p2YTicks, yMinor: p2YMinor,
            obs: p2Obs, model: p2Model, insetObs: p2InsetObs, insetModel: p2InsetModel,
            insetLabel: [4733, 0.65],
            names: p2Names, textAt: p2TextAt, lineAt: p2LineAt, lineAt2: p2LineAt2, tbOff: 62,
          })
        }
      />
      <ChartCanvas
        top={775}
        height={335}
        build={() =>
          buildSpectrum({
            xMin: 5625, xMax: 6625, yMax: 1.8, padTop: 8, axisH: 41, xPad: 8,
            xTicks: p3XTicks, xMinor: p3XMinor, yTicks: p3YTicks, yMinor: p3YMinor,
            obs: p3Obs, model: p3Model, insetObs: p3InsetObs, insetModel: p3InsetModel,
            insetLabel: [6525, 0.58],
            names: p3Names, textAt: p3TextAt, lineAt: p3LineAt, lineAt2: p3LineAt2, tbOff: 60,
          })
        }
      />
      <ChartCanvas
        top={1110}
        height={375}
        build={() =>
          buildSpectrum({
            xMin: 6625, xMax: 7150, yMax: 1.5, padTop: 17, axisH: 72, xPad: 10,
            xTicks: p4XTicks, xMinor: p4XMinor, yTicks: p4YTicks, yMinor: p4YMinor,
            obs: p4Obs, model: p4Model,
            names: p4Names, textAt: p4TextAt, lineAt: p4LineAt, lineAt2: p4LineAt2, tbOff: 61,
            xTitle: true,
          })
        }
      />
    </div>
  );
}
